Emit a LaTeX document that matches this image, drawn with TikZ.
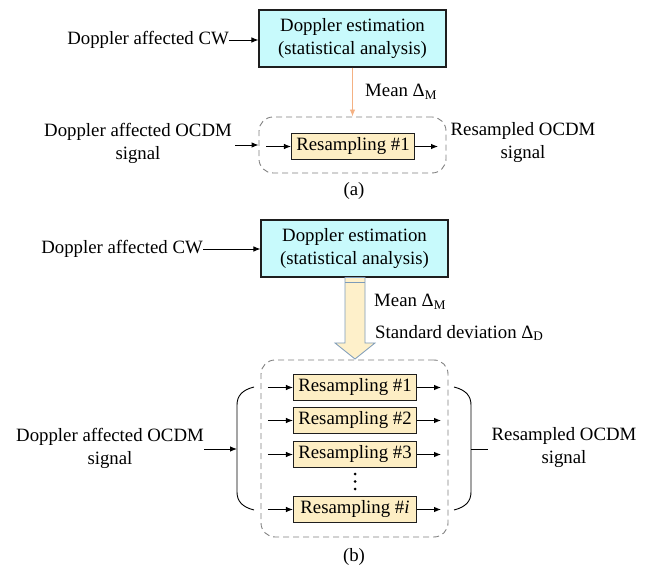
\documentclass[tikz,border=0pt]{standalone}
\usepackage{fontspec}
\setmainfont{Liberation Serif}
\usetikzlibrary{arrows.meta,calc}
\definecolor{cyanfill}{RGB}{200,250,252}
\definecolor{yelfill}{RGB}{253,238,196}
\definecolor{arrfill}{RGB}{254,240,202}
\definecolor{arredge}{RGB}{125,155,185}
\definecolor{orangearr}{RGB}{244,177,131}
\definecolor{dashgray}{RGB}{128,128,128}
\definecolor{boxedge}{RGB}{30,30,30}
\tikzset{
  every node/.style={font=\fontsize{18.8}{23}\selectfont},
  txt/.style={inner sep=0pt, align=center},
  cbox/.style={draw=boxedge, line width=1.1pt, fill=cyanfill, align=center, inner sep=0pt,
     minimum width=187pt, minimum height=57pt},
  rbox/.style={draw=boxedge, line width=1.1pt, fill=yelfill, inner sep=0pt,
     minimum width=123pt, minimum height=26pt},
  dbox/.style={draw=dashgray, line width=0.9pt, dash pattern=on 6pt off 4pt, rounded corners=14pt,
     minimum width=187pt, inner sep=0pt},
  conn/.style={-{Latex[length=7pt,width=5.5pt]}, line width=0.9pt, black},
  plainline/.style={line width=0.9pt, black},
}
\begin{document}
\begin{tikzpicture}[x=1pt,y=-1pt]
\useasboundingbox (0,0) rectangle (651,569);

% ---------------- (a) ----------------
\node[cbox] (estA) at (352.5,38.5) {Doppler estimation\\(statistical analysis)};
\node[txt, anchor=east] (cwA) at (229,40) {Doppler affected CW};
\draw[conn] (cwA.east) -- (cwA.east -| estA.west);

\node[dbox, minimum height=56pt] (grpA) at (352.5,145) {};
\node[rbox] (rsA) at (353,146.5) {Resampling \#1};
\coordinate (inA) at (266,146.5);
\coordinate (outA) at (438,146.5);
\draw[conn] (inA) -- (rsA.west);
\draw[conn] (rsA.east) -- (outA);

\node[txt] (ltA) at (138,143) {Doppler affected OCDM\\signal};
\coordinate (lA) at (235,145);
\draw[conn] (lA) -- (lA -| grpA.west);
\node[txt] (rtA) at (523,143) {Resampled OCDM\\signal};

\draw[-{Latex[length=7pt,width=5.5pt]}, line width=0.9pt, orangearr] (estA.south) -- (grpA.north);
\node[txt, anchor=west] (meanA) at (365,92) {Mean Δ\textsubscript{M}};
\node[txt] (capA) at (354,191) {(a)};

% ---------------- (b) ----------------
\node[cbox] (estB) at (354.5,248.5) {Doppler estimation\\(statistical analysis)};
\node[txt, anchor=east] (cwB) at (203,249) {Doppler affected CW};
\draw[conn] (cwB.east) -- (cwB.east -| estB.west);

% big hollow arrow
\draw[draw=arredge, line width=0.8pt, fill=arrfill]
  (345,277.5) -- (345,343) -- (335,343) -- (355,359) -- (375,343) -- (365,343) -- (365,277.5) -- cycle;
\draw[draw=arredge, line width=0.8pt] (345,282) -- (365,282);
\node[txt, anchor=west] (meanB) at (374,302) {Mean Δ\textsubscript{M}};
\node[txt, anchor=west] (sdB) at (375,333) {Standard deviation Δ\textsubscript{D}};

\node[dbox, minimum height=177pt] (grpB) at (354.5,448.5) {};
\node[rbox] (rs1) at (355,387.5) {Resampling \#1};
\node[rbox] (rs2) at (355,420.5) {Resampling \#2};
\node[rbox] (rs3) at (355,454.5) {Resampling \#3};
\node[rbox] (rsi) at (355,509.5) {Resampling \#\textit{i}};
\foreach \n in {rs1,rs2,rs3,rsi}{
  \draw[conn] ($(\n.west)+(-25,0)$) -- (\n.west);
  \draw[conn] (\n.east) -- ($(\n.east)+(24,0)$);
}
\foreach \yy in {474,481.5,489}{
  \fill (355,\yy) circle (1.5pt);
}

% brackets
\coordinate (lbt) at (254,387);
\coordinate (lbb) at (254,510);
\draw[plainline] (lbt) .. controls (242,390) and (237,396) .. (237,405) -- (237,492)
   .. controls (237,501) and (242,507) .. (lbb);
\coordinate (rbt) at (454,387);
\coordinate (rbb) at (454,510);
\draw[plainline] (rbt) .. controls (466,390) and (471,396) .. (471,405) -- (471,492)
   .. controls (471,501) and (466,507) .. (rbb);
\coordinate (lbm) at (237,449);
\coordinate (rbm) at (471,449);

\node[txt] (ltB) at (110,448) {Doppler affected OCDM\\signal};
\coordinate (lB) at (204,449);
\draw[conn] (lB) -- (lbm);
\node[txt] (rtB) at (564,448) {Resampled OCDM\\signal};
\coordinate (rB) at (488,449);
\draw[plainline] (rbm) -- (rB);

\node[txt] (capB) at (354,557) {(b)};
\end{tikzpicture}
\end{document}
